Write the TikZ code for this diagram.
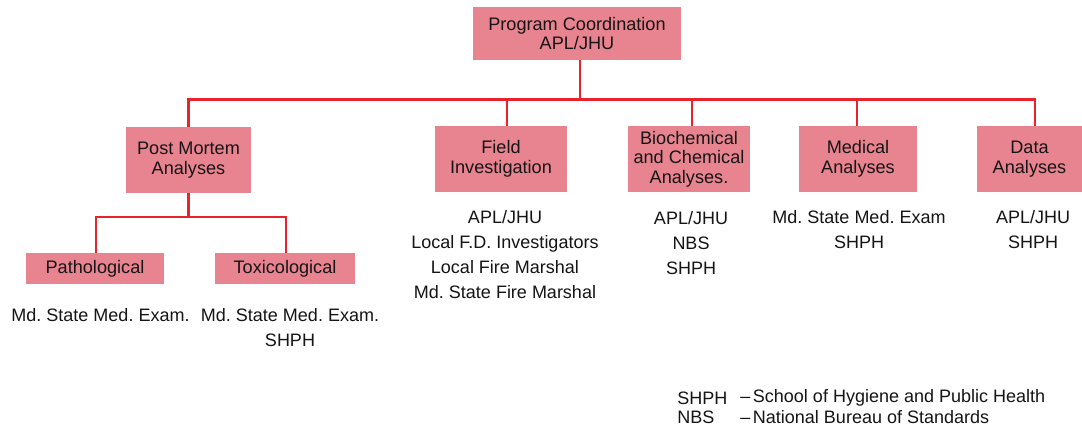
\documentclass[tikz,border=0pt]{standalone}
\usepackage{fontspec}
\setmainfont{Liberation Sans}
\usetikzlibrary{calc}
\definecolor{boxpink}{HTML}{E8848F}
\definecolor{linered}{HTML}{E8232B}
\definecolor{ink}{HTML}{161416}
\tikzset{
  x=0.75pt, y=-0.75pt,
  orgbox/.style={fill=boxpink, draw=none, align=center, inner sep=0pt, text=ink,
    font=\fontsize{13.6}{14.6}\selectfont},
  conn/.style={draw=linered, line width=1.6pt},
  lst/.style={align=center, inner sep=0pt, text=ink, font=\fontsize{13.5}{18.75}\selectfont},
  leg/.style={anchor=west, inner sep=0pt, text=ink, font=\fontsize{13.5}{14}\selectfont}
}
\frenchspacing
\begin{document}
\frenchspacing
\begin{tikzpicture}
\useasboundingbox[fill=white] (0,0) rectangle (1082,426);
% boxes
\node[orgbox, minimum width=208*0.75pt, minimum height=53*0.75pt] (top) at (577,33.5) {Program Coordination\\APL/JHU};
\node[orgbox, minimum width=125*0.75pt, minimum height=66*0.75pt] (pm) at (188.5,160) {Post Mortem\\Analyses};
\node[orgbox, minimum width=132*0.75pt, minimum height=66*0.75pt] (fi) at (501,159) {Field\\Investigation};
\node[orgbox, minimum width=122*0.75pt, minimum height=66*0.75pt] (bc) at (689,159) {Biochemical\\and Chemical\\Analyses.};
\node[orgbox, minimum width=118*0.75pt, minimum height=66*0.75pt] (md) at (858,159) {Medical\\Analyses};
\node[orgbox, minimum width=105*0.75pt, minimum height=66*0.75pt] (da) at (1029.5,159) {Data\\Analyses};
\node[orgbox, minimum width=138*0.75pt, minimum height=31*0.75pt] (pa) at (95,268.5) {Pathological};
\node[orgbox, minimum width=140*0.75pt, minimum height=31*0.75pt] (tx) at (285,268.5) {Toxicological};
% connectors
\coordinate (busy) at (0,99.5);
\coordinate (suby) at (0,217);
\draw[conn] ($(top.south)+(3,0)$) -- ($(top.south|-busy)+(3,0)$);
\draw[conn] (pm.north) |- ($(da.north|-busy)+(5.5,0)$) -- ($(da.north)+(5.5,0)$);
\draw[conn] ($(fi.north)+(6,0)$) -- ($(fi.north|-busy)+(6,0)$);
\draw[conn] ($(bc.north)+(3,0)$) -- ($(bc.north|-busy)+(3,0)$);
\draw[conn] ($(md.north)+(-1,0)$) -- ($(md.north|-busy)+(-1,0)$);
\draw[conn] (pm.south) -- (pm.south|-suby);
\draw[conn] ($(pa.north)+(1,0)$) |- (pm.south|-suby) -| ($(tx.north)+(1,0)$);
% lists
\node[lst] (paL) at (100.5,315) {Md. State Med. Exam.};
\node[lst] (txL) at (290,327.5) {Md. State Med. Exam.\\SHPH};
\node[lst] (fiL) at (505,254.5) {APL/JHU\\Local F.D. Investigators\\Local Fire Marshal\\Md. State Fire Marshal};
\node[lst] (bcL) at (691,243) {APL/JHU\\NBS\\SHPH};
\node[lst] (mdL) at (859,230) {Md. State Med. Exam\\SHPH};
\node[lst] (daL) at (1033,230) {APL/JHU\\SHPH};
% legend
\node[leg] (l1a) at (677,398) {SHPH};
\node[leg] (l1b) at (740,398) {--\hspace{0.15em}School of Hygiene and Public Health};
\node[leg] (l2a) at (677,417) {NBS};
\node[leg] (l2b) at (740,417) {--\hspace{0.15em}National Bureau of Standards};
\end{tikzpicture}
\end{document}
